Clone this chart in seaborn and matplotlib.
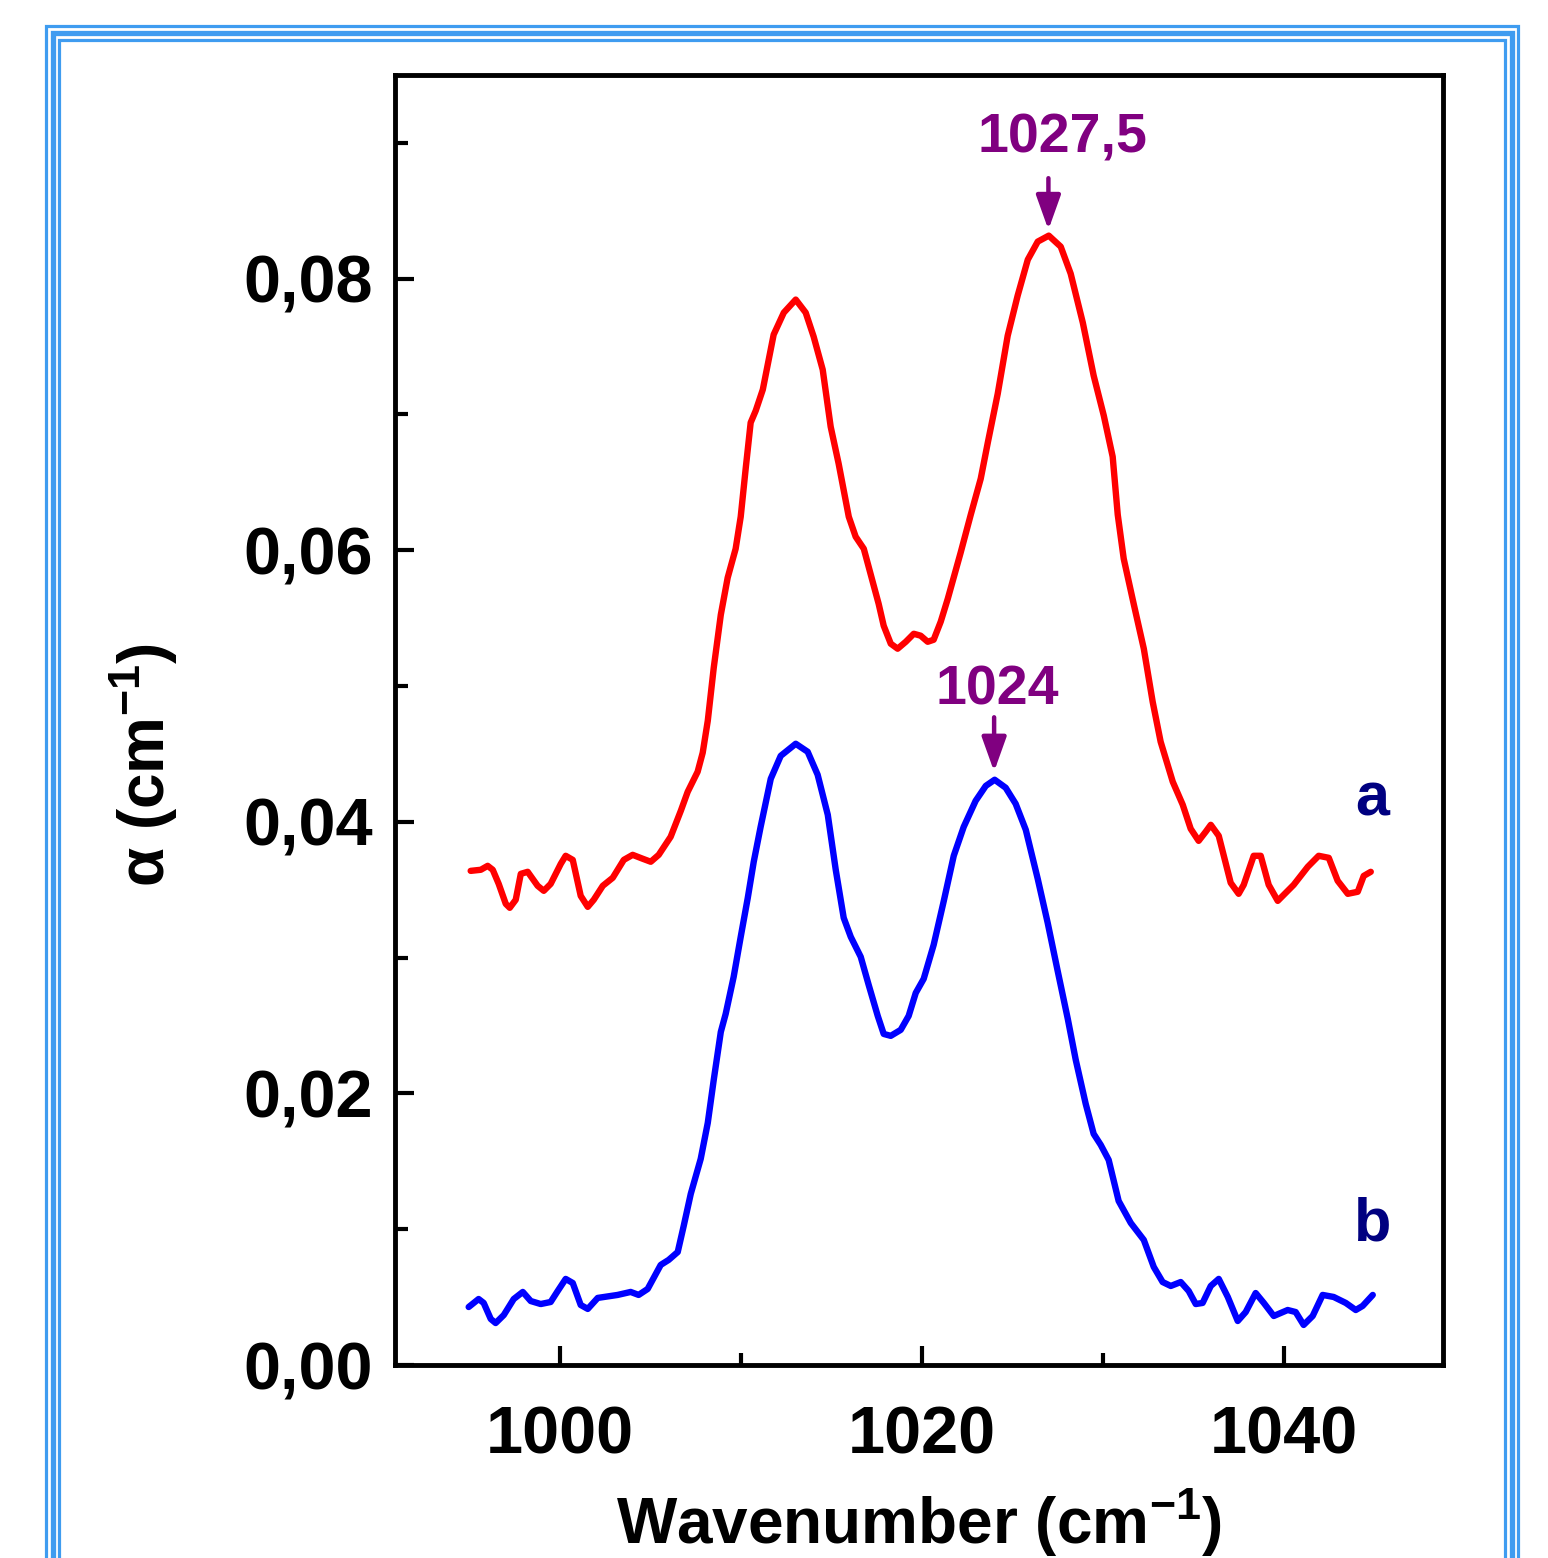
import matplotlib
matplotlib.use('Agg')
import matplotlib.pyplot as plt
from matplotlib.patches import Rectangle
import seaborn as sns

# spectrum a (red)
wn_a = [995.08, 995.64, 996.02, 996.30, 996.63, 997.02, 997.24, 997.57, 997.85, 998.23,
        998.78, 999.12, 999.50, 1000.06, 1000.33, 1000.72, 1001.16, 1001.55, 1001.88, 1002.38,
        1002.93, 1003.54, 1004.03, 1004.59, 1005.03, 1005.47, 1006.13, 1006.69, 1007.07, 1007.62,
        1007.90, 1008.18, 1008.51, 1008.90, 1009.28, 1009.72, 1010.00, 1010.28, 1010.55, 1010.83,
        1011.22, 1011.82, 1012.38, 1013.04, 1013.59, 1014.03, 1014.53, 1014.97, 1015.41, 1015.97,
        1016.35, 1016.80, 1017.35, 1017.62, 1017.90, 1018.29, 1018.67, 1019.12, 1019.56, 1019.94,
        1020.33, 1020.66, 1021.05, 1021.44, 1022.15, 1022.71, 1023.26, 1023.65, 1024.20, 1024.75,
        1025.30, 1025.86, 1026.41, 1027.02, 1027.68, 1028.23, 1028.90, 1029.50, 1030.06, 1030.55,
        1030.83, 1031.16, 1031.71, 1032.27, 1032.76, 1033.20, 1033.87, 1034.42, 1034.86, 1035.30,
        1035.69, 1035.97, 1036.41, 1037.07, 1037.51, 1037.79, 1038.34, 1038.73, 1039.17, 1039.67,
        1040.55, 1041.33, 1041.93, 1042.49, 1042.98, 1043.54, 1044.09, 1044.42, 1044.81]
alpha_a = [0.03639, 0.03647, 0.03676, 0.03647, 0.03543, 0.03396, 0.03367, 0.03426, 0.03617, 0.03632,
           0.03529, 0.03492, 0.03543, 0.03691, 0.03750, 0.03720, 0.03455, 0.03374, 0.03426, 0.03529,
           0.03588, 0.03720, 0.03757, 0.03728, 0.03706, 0.03757, 0.03890, 0.04081, 0.04221, 0.04369,
           0.04509, 0.04744, 0.05135, 0.05525, 0.05798, 0.06011, 0.06247, 0.06608, 0.06940, 0.07028,
           0.07183, 0.07588, 0.07750, 0.07846, 0.07750, 0.07573, 0.07330, 0.06910, 0.06638, 0.06247,
           0.06100, 0.06011, 0.05739, 0.05606, 0.05444, 0.05312, 0.05275, 0.05326, 0.05385, 0.05371,
           0.05326, 0.05341, 0.05474, 0.05643, 0.05982, 0.06262, 0.06527, 0.06792, 0.07153, 0.07580,
           0.07875, 0.08140, 0.08273, 0.08317, 0.08236, 0.08037, 0.07676, 0.07286, 0.06991, 0.06689,
           0.06262, 0.05938, 0.05606, 0.05275, 0.04884, 0.04590, 0.04295, 0.04126, 0.03949, 0.03860,
           0.03927, 0.03978, 0.03897, 0.03551, 0.03470, 0.03536, 0.03750, 0.03750, 0.03536, 0.03418,
           0.03536, 0.03669, 0.03750, 0.03735, 0.03566, 0.03470, 0.03485, 0.03602, 0.03632]

# spectrum b (blue)
wn_b = [994.97, 995.52, 995.80, 996.19, 996.46, 996.91, 997.46, 997.96, 998.40, 998.95,
        999.50, 999.89, 1000.33, 1000.72, 1001.16, 1001.55, 1002.10, 1003.20, 1003.92, 1004.36,
        1004.86, 1005.58, 1006.02, 1006.52, 1006.85, 1007.24, 1007.79, 1008.18, 1008.51, 1008.90,
        1009.17, 1009.61, 1010.00, 1010.39, 1010.72, 1011.10, 1011.66, 1012.21, 1013.04, 1013.70,
        1014.25, 1014.81, 1015.25, 1015.69, 1016.08, 1016.63, 1017.07, 1017.57, 1017.90, 1018.29,
        1018.84, 1019.28, 1019.67, 1020.11, 1020.66, 1021.22, 1021.77, 1022.32, 1022.98, 1023.54,
        1024.03, 1024.64, 1025.19, 1025.75, 1026.41, 1026.96, 1027.51, 1028.07, 1028.51, 1029.06,
        1029.50, 1029.89, 1030.33, 1030.88, 1031.55, 1032.27, 1032.82, 1033.31, 1033.76, 1034.31,
        1034.75, 1035.14, 1035.52, 1035.97, 1036.41, 1036.91, 1037.46, 1037.90, 1038.45, 1038.90,
        1039.45, 1040.22, 1040.66, 1041.10, 1041.60, 1042.15, 1042.76, 1043.43, 1043.98, 1044.36,
        1044.92]
alpha_b = [0.00427, 0.00486, 0.00457, 0.00339, 0.00309, 0.00368, 0.00486, 0.00538, 0.00471, 0.00449,
           0.00464, 0.00545, 0.00634, 0.00604, 0.00442, 0.00413, 0.00494, 0.00516, 0.00538, 0.00516,
           0.00560, 0.00737, 0.00774, 0.00832, 0.01024, 0.01260, 0.01518, 0.01783, 0.02100, 0.02453,
           0.02586, 0.02858, 0.03153, 0.03440, 0.03706, 0.03963, 0.04317, 0.04486, 0.04575, 0.04516,
           0.04347, 0.04052, 0.03647, 0.03293, 0.03153, 0.03006, 0.02799, 0.02571, 0.02438, 0.02424,
           0.02468, 0.02571, 0.02740, 0.02844, 0.03094, 0.03418, 0.03750, 0.03963, 0.04155, 0.04265,
           0.04310, 0.04251, 0.04133, 0.03941, 0.03580, 0.03256, 0.02903, 0.02549, 0.02247, 0.01923,
           0.01702, 0.01621, 0.01510, 0.01208, 0.01046, 0.00921, 0.00722, 0.00611, 0.00582, 0.00611,
           0.00545, 0.00449, 0.00457, 0.00582, 0.00634, 0.00501, 0.00324, 0.00390, 0.00530, 0.00457,
           0.00361, 0.00405, 0.00390, 0.00295, 0.00361, 0.00516, 0.00501, 0.00457, 0.00405, 0.00435,
           0.00516]

xticks = [1000, 1020, 1040]
xtick_labels = ['1000', '1020', '1040']
yticks = [0.00, 0.02, 0.04, 0.06, 0.08]
ytick_labels = ['0,00', '0,02', '0,04', '0,06', '0,08']
peak_labels = ['1027,5', '1024']
curve_labels = ['a', 'b']

sns.set_style('ticks')
plt.rcParams['font.family'] = ['Liberation Sans', 'DejaVu Sans']
plt.rcParams['font.weight'] = 'bold'
plt.rcParams['text.color'] = 'black'
plt.rcParams['axes.labelcolor'] = 'black'
plt.rcParams['xtick.color'] = 'black'
plt.rcParams['ytick.color'] = 'black'
plt.rcParams['mathtext.fontset'] = 'custom'
plt.rcParams['mathtext.rm'] = 'Liberation Sans:bold'
plt.rcParams['mathtext.bf'] = 'Liberation Sans:bold'
plt.rcParams['mathtext.default'] = 'bf'

W, H = 1548, 1558
fig = plt.figure(figsize=(W / 100, H / 100), dpi=100)
ax = fig.add_axes([395 / W, 1 - 1365 / H, (1443 - 395) / W, (1365 - 75) / H])

sns.lineplot(x=wn_a, y=alpha_a, sort=False, estimator=None, color='#ff0000', lw=4.6,
             solid_joinstyle='round', solid_capstyle='round', ax=ax)
sns.lineplot(x=wn_b, y=alpha_b, sort=False, estimator=None, color='#0000ff', lw=4.6,
             solid_joinstyle='round', solid_capstyle='round', ax=ax)

ax.set_xlim(990.9, 1048.8)
ax.set_ylim(0, 0.095)
ax.set_xticks(xticks)
ax.set_xticklabels(xtick_labels)
ax.set_xticks([1010, 1030], minor=True)
ax.set_yticks(yticks)
ax.set_yticklabels(ytick_labels)
ax.set_yticks([0.01, 0.03, 0.05, 0.07, 0.09], minor=True)
ax.tick_params(which='major', direction='in', length=14, width=3, labelsize=48,
               top=False, right=False)
ax.tick_params(axis='y', which='major', pad=16)
ax.tick_params(axis='x', which='major', pad=29)
ax.tick_params(which='minor', direction='in', length=9, width=3, top=False, right=False)
for sp in ax.spines.values():
    sp.set_linewidth(3.5)
    sp.set_color('black')

ax.set_xlabel('Wavenumber (cm$^{-1}$)', fontsize=46, fontweight='bold')
ax.set_ylabel('\u03b1 (cm$^{-1}$)', fontsize=46, fontweight='bold')
ax.xaxis.set_label_coords(0.5, -0.094)
ax.yaxis.set_label_coords(-0.205, 0.465)

purple = '#800080'
ax.text(1027.8, 0.0903, peak_labels[0], color=purple, fontsize=40, fontweight='bold',
        ha='center', va='center')
ax.annotate('', xy=(1027.0, 0.0836), xytext=(1027.0, 0.0874),
            arrowprops=dict(arrowstyle='-|>,head_length=0.7,head_width=0.25', color=purple,
                            lw=3.2, mutation_scale=30, shrinkA=0, shrinkB=0))
ax.text(1024.2, 0.0497, peak_labels[1], color=purple, fontsize=40, fontweight='bold',
        ha='center', va='center')
ax.annotate('', xy=(1024.0, 0.0437), xytext=(1024.0, 0.0477),
            arrowprops=dict(arrowstyle='-|>,head_length=0.7,head_width=0.25', color=purple,
                            lw=3.2, mutation_scale=30, shrinkA=0, shrinkB=0))

ax.text(1044.9, 0.0416, curve_labels[0], color='#000080', fontsize=44, fontweight='bold',
        ha='center', va='center')
ax.text(1044.9, 0.0103, curve_labels[1], color='#000080', fontsize=44, fontweight='bold',
        ha='center', va='center')

# blue triple frame around the figure
blue = '#3f9cf0'
for left, right, top, lw in [(46, 1518, 26, 2.3), (52.5, 1511.7, 33, 3.8), (59, 1505, 39.5, 2.3)]:
    fig.patches.append(Rectangle((left / W, -0.05), (right - left) / W, (1 - top / H) + 0.05,
                                 transform=fig.transFigure, fill=False, edgecolor=blue,
                                 lw=lw, zorder=0))

plt.savefig('out.png', dpi=100)
plt.close()
